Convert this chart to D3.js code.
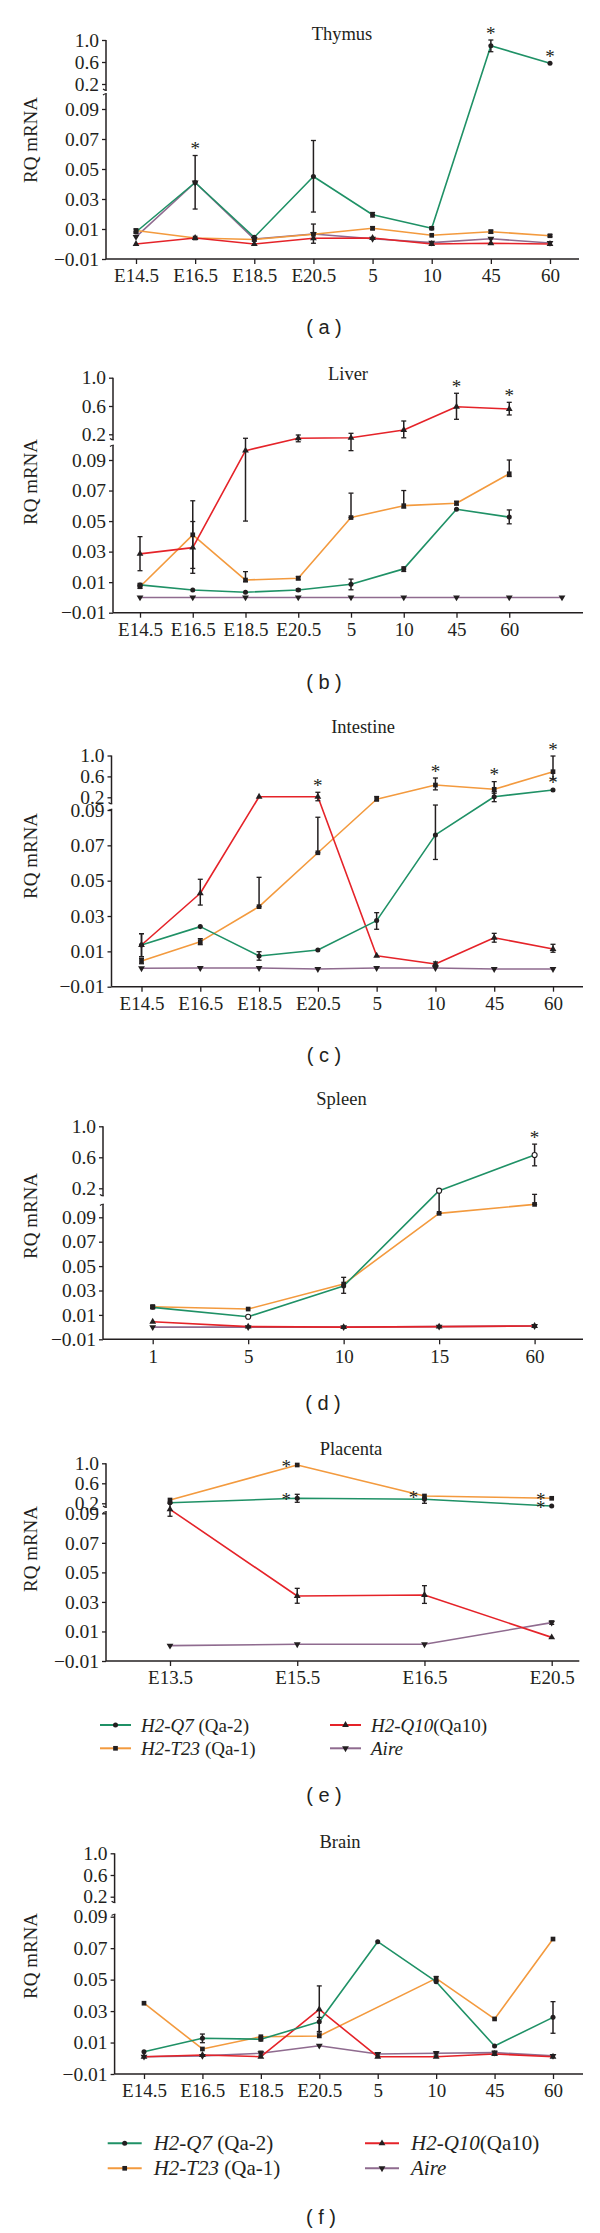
<!DOCTYPE html>
<html><head><meta charset="utf-8">
<script src="https://cdn.jsdelivr.net/npm/d3@7"></script>
<style>body{margin:0;background:#fff} svg{display:block;background:#fff}</style>
</head><body>
<svg id="c" width="600" height="2233"></svg>
<script>
// ---------------- data ----------------
const seriesNames = ["H2-Q7", "H2-T23", "H2-Q10", "Aire"];
const seriesQa = [" (Qa-2)", " (Qa-1)", "(Qa10)", ""];
const seriesColors = ["#1f9166", "#f39a3e", "#e52329", "#8f6b8f"];
const yTicksLow = [-0.01, 0.01, 0.03, 0.05, 0.07, 0.09];
const yTicksHigh = [0.2, 0.6, 1.0];

const devCats = ["E14.5", "E16.5", "E18.5", "E20.5", "5", "10", "45", "60"];
const liverCats = ["E14.5", "E16.5", "E18.5", "E20.5", "5", "10", "45", "60", ""];
const spleenCats = ["1", "5", "10", "15", "60"];
const placentaCats = ["E13.5", "E15.5", "E16.5", "E20.5"];

// Thymus
const thymusQ7 = [0.008, 0.041, 0.0045, 0.045, 0.0195, 0.0105, 0.896, 0.576];
const thymusT23 = [0.009, 0.004, 0.003, 0.0065, 0.0105, 0.0058, 0.0082, 0.0055];
const thymusQ10 = [0.0, 0.004, 0.0, 0.0038, 0.004, 0.0, 0.0005, 0.0];
const thymusAire = [0.0047, 0.041, 0.0033, 0.0067, 0.0035, 0.0009, 0.0035, 0.0007];
const thymusQ7Err = [null, [0.0233, 0.059], null, [0.0213, 0.069], [0.018, 0.021], [0.0095, 0.0115], [0.787, 1.0], null];
const thymusT23Err = [[0.007, 0.010], null, [0.002, 0.004], [0.0005, 0.0133], [0.0095, 0.0115], null, [0.0072, 0.0092], [0.0048, 0.0062]];
const thymusStars = [[0, 1], [0, 6], [0, 7]];

// Liver
const liverQ7 = [0.0082, 0.0049, 0.0034, 0.0049, 0.0086, 0.0187, 0.0578, 0.0526, null];
const liverT23 = [0.007, 0.041, 0.0114, 0.0126, 0.0523, 0.0601, 0.0617, 0.081, null];
const liverQ10 = [0.0285, 0.0326, 0.13, 0.183, 0.185, 0.261, 0.59, 0.558, null];
const liverAire = [0, 0, 0, 0, 0, 0, 0, 0, 0];
const liverQ7Err = [[0.0072, 0.0092], null, null, [0.0042, 0.0056], [0.005, 0.012], [0.017, 0.020], null, [0.0482, 0.0573], null];
const liverT23Err = [[0.006, 0.008], [0.019, 0.0633], [0.0103, 0.0169], [0.0115, 0.0137], [0.0523, 0.0683], [0.0585, 0.070], [0.0605, 0.063], [0.0792, 0.090], null];
const liverQ10Err = [[0.0175, 0.0398], [0.0158, 0.0497], [0.050, 0.183], [0.168, 0.197], [0.13, 0.214], [0.185, 0.388], [0.412, 0.78], [0.473, 0.652], null];
const liverStars = [[2, 6], [2, 7]];

// Intestine
const intestineQ7 = [0.0136, 0.024, 0.0074, 0.0108, 0.0274, 0.0759, 0.211, 0.34];
const intestineT23 = [0.0045, 0.0155, 0.0353, 0.0658, 0.183, 0.435, 0.353, 0.69];
const intestineQ10 = [0.0136, 0.0429, 0.21, 0.21, 0.0075, 0.0028, 0.0177, 0.0113];
const intestineAire = [0.0004, 0.0006, 0.0006, 0.0, 0.0006, 0.0006, 0.0, 0.0];
const intestineQ7Err = [[0.007, 0.02], null, [0.005, 0.0098], null, [0.0225, 0.0319], [0.062, 0.133], [0.162, 0.309], null];
const intestineT23Err = [[0.003, 0.006], [0.0138, 0.0172], [0.0353, 0.0519], [0.0658, 0.0859], [0.17, 0.215], [0.342, 0.569], [0.278, 0.5], [0.55, 0.99]];
const intestineQ10Err = [[0.007, 0.02], [0.0362, 0.0508], null, [0.17, 0.296], null, [0.0015, 0.004], [0.0152, 0.0202], [0.0095, 0.014]];
const intestineStars = [[2, 3], [1, 5], [1, 6], [1, 7], [0, 7]];

// Spleen
const spleenQ7 = [0.0162, 0.0085, 0.0337, 0.191, 0.63];
const spleenT23 = [0.0167, 0.0148, 0.0353, 0.105, 0.139];
const spleenQ10 = [0.0044, 0.0004, 0.0, 0.0004, 0.0009];
const spleenAire = [0.0, 0.0, 0.0, 0.0004, 0.0009];
const spleenQ7Err = [[0.015, 0.0175], null, [0.0277, 0.0408], null, [0.49, 0.77]];
const spleenT23Err = [[0.0155, 0.018], null, null, [0.105, 0.191], [0.139, 0.177]];
const spleenStars = [[0, 4]];

// Placenta
const placentaQ7 = [0.212, 0.3, 0.28, 0.17];
const placentaT23 = [0.266, 0.966, 0.346, 0.3];
const placentaQ10 = [0.134, 0.034, 0.0347, 0.006];
const placentaAire = [0.0004, 0.0013, 0.0013, 0.016];
const placentaQ7Err = [null, [0.22, 0.38], [0.2, 0.3], null];
const placentaQ10Err = [[0.088, 0.2], [0.0291, 0.0392], [0.029, 0.041], null];
const placentaAireErr = [null, null, null, [0.0148, 0.0172]];
const placentaStars = [[1, 1], [0, 1], [1, 2], [1, 3], [0, 3]];

// Brain
const brainQ7 = [0.0042, 0.0127, 0.0121, 0.0232, 0.0741, 0.0487, 0.0078, 0.026];
const brainT23 = [0.035, 0.0059, 0.0137, 0.0142, null, 0.0508, 0.025, 0.0758];
const brainQ10 = [0.001, 0.0021, 0.001, 0.0311, 0.001, 0.001, 0.0027, 0.001];
const brainAire = [0.001, 0.0015, 0.0032, 0.008, 0.0027, 0.0032, 0.0036, 0.0015];
const brainQ7Err = [null, [0.0099, 0.0154], [0.011, 0.0135], [0.017, 0.026], null, null, null, [0.0159, 0.036]];
const brainT23Err = [null, null, null, null, null, [0.049, 0.052], null, null];
const brainQ10Err = [null, null, null, [0.016, 0.046], null, null, null, null];
const brainAireErr = [null, null, [0.002, 0.0045], null, [0.0015, 0.0035], [0.002, 0.0042], [0.0025, 0.0045], null];

// ---------------- layout ----------------
const panels = [
  {title: "Thymus", tag: "a", cats: devCats, series: [thymusQ7, thymusT23, thymusQ10, thymusAire],
   errs: [thymusQ7Err, thymusT23Err, null, null], stars: thymusStars, starSide: "top",
   L: {axisX: 106, xEnd: 579, xFirst: 136, xLast: 550, y0: 259, y09: 109, y02: 84, y1: 40, brkHi: 90.5, brkLo: 93.5,
       titleX: 342, titleY: 40, tagX: 324, tagY: 327, ylabY: 140}},
  {title: "Liver", tag: "b", cats: liverCats, series: [liverQ7, liverT23, liverQ10, liverAire],
   errs: [liverQ7Err, liverT23Err, liverQ10Err, null], stars: liverStars, starSide: "top",
   L: {axisX: 113, xEnd: 583, xFirst: 140, xLast: 562, y0: 612.7, y09: 460, y02: 434.3, y1: 377.7, brkHi: 440, brkLo: 445,
       titleX: 348, titleY: 380, tagX: 324, tagY: 682, ylabY: 482}},
  {title: "Intestine", tag: "c", cats: devCats, series: [intestineQ7, intestineT23, intestineQ10, intestineAire],
   errs: [intestineQ7Err, intestineT23Err, intestineQ10Err, null], stars: intestineStars, starSide: "top",
   L: {axisX: 111.5, xEnd: 583, xFirst: 141.5, xLast: 553, y0: 986.7, y09: 810, y02: 797.3, y1: 755.5, brkHi: 804, brkLo: 809,
       titleX: 363, titleY: 733, tagX: 324, tagY: 1055, ylabY: 856}},
  {title: "Spleen", tag: "d", cats: spleenCats, series: [spleenQ7, spleenT23, spleenQ10, spleenAire],
   errs: [spleenQ7Err, spleenT23Err, null, null], stars: spleenStars, starSide: "top", openQ7: true,
   L: {axisX: 103, xEnd: 583, xFirst: 152.7, xLast: 534.6, y0: 1339.3, y09: 1217.3, y02: 1188.3, y1: 1126.3, brkHi: 1196, brkLo: 1204,
       titleX: 341.5, titleY: 1105, tagX: 323, tagY: 1403, ylabY: 1216}},
  {title: "Placenta", tag: "e", cats: placentaCats, series: [placentaQ7, placentaT23, placentaQ10, placentaAire],
   errs: [placentaQ7Err, null, placentaQ10Err, placentaAireErr], stars: placentaStars, starSide: "left",
   L: {axisX: 106, xEnd: 579.3, xFirst: 170, xLast: 551.7, y0: 1661, y09: 1513.3, y02: 1503.3, y1: 1463.3, brkHi: 1507.5, brkLo: 1511.5,
       titleX: 351, titleY: 1455, tagX: 324, tagY: 1795, ylabY: 1549,
       legend: {rows: [1725, 1748.3], cols: [100, 330], lineLen: 31, textGap: 41, font: 19}}},
  {title: "Brain", tag: "f", cats: devCats, series: [brainQ7, brainT23, brainQ10, brainAire],
   errs: [brainQ7Err, brainT23Err, brainQ10Err, brainAireErr], stars: [], starSide: "top",
   L: {axisX: 114.6, xEnd: 583, xFirst: 144, xLast: 553, y0: 2074, y09: 1916.7, y02: 1896.7, y1: 1853.3, brkHi: 1902.7, brkLo: 1914,
       titleX: 340, titleY: 1848, tagX: 321, tagY: 2216.7, ylabY: 1956,
       legend: {rows: [2143.3, 2168.3], cols: [107.7, 365], lineLen: 34, textGap: 46, font: 21}}}
];

const SERIF = "'Liberation Serif', 'Times New Roman', serif";
const SANS = "'Liberation Sans', Arial, sans-serif";
const INK = "#231f20";

const svg = d3.select("#c");

function marker(g, si, x, y, open) {
  const types = [d3.symbolCircle, d3.symbolSquare, d3.symbolTriangle, d3.symbolTriangle];
  const sizes = [20, 22, 20, 20];
  const p = g.append("path")
    .attr("d", d3.symbol().type(types[si]).size(sizes[si])())
    .attr("transform", `translate(${x},${y})` + (si === 3 ? " rotate(180)" : ""))
    .attr("fill", open ? "#fff" : INK)
    .attr("stroke", open ? INK : "none")
    .attr("stroke-width", open ? 1.1 : 0);
  return p;
}

function drawPanel(P) {
  const L = P.L;
  const g = svg.append("g");
  const x = d3.scalePoint().domain(P.cats).range([L.xFirst, L.xLast]);
  const y = d3.scaleLinear().domain([-0.01, 0.09, 0.2, 1.0]).range([L.y0, L.y09, L.y02, L.y1]);

  // x axis
  const xa = g.append("g").attr("transform", `translate(0,${L.y0})`)
    .call(d3.axisBottom(x).tickSize(5).tickSizeOuter(0).tickPadding(5));
  xa.select(".domain").remove();
  xa.selectAll("line").attr("stroke", INK).attr("stroke-width", 1.3);
  xa.selectAll(".tick").filter(d => d === "").select("line").remove();
  xa.selectAll("text").attr("font-family", SERIF).attr("font-size", 19).attr("fill", INK);
  g.append("line").attr("x1", L.axisX).attr("x2", L.xEnd).attr("y1", L.y0).attr("y2", L.y0)
    .attr("stroke", INK).attr("stroke-width", 1.5);

  // y axes (broken)
  const fmtLow = d3.format(".2f"), fmtHigh = d3.format(".1f");
  const ya1 = g.append("g").attr("transform", `translate(${L.axisX},0)`)
    .call(d3.axisLeft(y).tickValues(yTicksLow).tickFormat(fmtLow).tickSize(4).tickPadding(3));
  const ya2 = g.append("g").attr("transform", `translate(${L.axisX},0)`)
    .call(d3.axisLeft(y).tickValues(yTicksHigh).tickFormat(fmtHigh).tickSize(4).tickPadding(3));
  [ya1, ya2].forEach(a => {
    a.select(".domain").remove();
    a.selectAll("line").attr("stroke", INK).attr("stroke-width", 1.3);
    a.selectAll("text").attr("font-family", SERIF).attr("font-size", 19.5).attr("fill", INK);
  });
  g.append("line").attr("x1", L.axisX).attr("x2", L.axisX).attr("y1", L.y1).attr("y2", L.brkHi)
    .attr("stroke", INK).attr("stroke-width", 1.5);
  g.append("line").attr("x1", L.axisX).attr("x2", L.axisX).attr("y1", L.brkLo).attr("y2", L.y0)
    .attr("stroke", INK).attr("stroke-width", 1.5);
  // break marks
  [[L.brkHi, -1], [L.brkLo, 1]].forEach(([yy, s]) => {
    g.append("path").attr("d", `M${L.axisX - 3},${yy + s * 1.5} Q${L.axisX - 1},${yy} ${L.axisX + 0.7},${yy}`)
      .attr("fill", "none").attr("stroke", INK).attr("stroke-width", 1.2);
  });

  // y label
  g.append("text").attr("transform", `translate(30,${L.ylabY}) rotate(-90)`)
    .attr("text-anchor", "middle").attr("dominant-baseline", "central")
    .attr("font-family", SERIF).attr("font-size", 19).attr("fill", INK).text("RQ mRNA");

  // title
  g.append("text").attr("x", L.titleX).attr("y", L.titleY).attr("text-anchor", "middle")
    .attr("font-family", SERIF).attr("font-size", 18.5).attr("fill", INK).text(P.title);

  // tag
  g.append("text").attr("x", L.tagX).attr("y", L.tagY).attr("text-anchor", "middle")
    .attr("dominant-baseline", "central").attr("font-family", SANS).attr("font-size", 20)
    .attr("fill", INK).attr("xml:space", "preserve").text(`( ${P.tag} )`);

  // lines
  const line = d3.line().x(d => x(d.c)).y(d => y(d.v));
  [3, 1, 2, 0].forEach(si => {
    const pts = P.cats.map((c, i) => ({c, v: P.series[si][i]})).filter(d => d.v !== null && d.v !== undefined);
    g.append("path").datum(pts).attr("d", line).attr("fill", "none")
      .attr("stroke", seriesColors[si]).attr("stroke-width", 1.6).attr("stroke-linejoin", "round");
  });

  // error bars
  P.errs.forEach((arr, si) => {
    if (!arr) return;
    arr.forEach((e, i) => {
      if (!e) return;
      const cx = x(P.cats[i]);
      const yl = y(e[0]), yh = y(e[1]);
      g.append("line").attr("x1", cx).attr("x2", cx).attr("y1", yl).attr("y2", yh).attr("stroke", INK).attr("stroke-width", 1.5);
      [yl, yh].forEach(yy => g.append("line").attr("x1", cx - 2.5).attr("x2", cx + 2.5).attr("y1", yy).attr("y2", yy)
        .attr("stroke", INK).attr("stroke-width", 1.3));
    });
  });

  // markers
  [3, 1, 2, 0].forEach(si => {
    P.series[si].forEach((v, i) => {
      if (v === null || v === undefined) return;
      marker(g, si, x(P.cats[i]), y(v), si === 0 && P.openQ7 && i !== 0 && i !== 2);
    });
  });

  // stars
  P.stars.forEach(([si, ci]) => {
    const v = P.series[si][ci];
    const cx = x(P.cats[ci]);
    let sx, sy;
    if (P.starSide === "left") {
      sx = cx - 11; sy = y(v) - 1;
    } else {
      const e = P.errs[si] && P.errs[si][ci];
      const top = Math.min(y(v), e ? y(e[1]) : y(v));
      sx = cx; sy = top - 9;
    }
    g.append("text").attr("x", sx).attr("y", sy + 8.5).attr("text-anchor", "middle")
      .attr("font-family", SERIF).attr("font-size", 19).attr("fill", INK).text("*");
  });

  // legend
  if (L.legend) {
    const lg = L.legend;
    [0, 1, 2, 3].forEach(si => {
      const col = si < 2 ? 0 : 1, row = si % 2;
      const x0 = lg.cols[col], yy = lg.rows[row];
      g.append("line").attr("x1", x0).attr("x2", x0 + lg.lineLen).attr("y1", yy).attr("y2", yy)
        .attr("stroke", seriesColors[si]).attr("stroke-width", 2);
      marker(g, si, x0 + lg.lineLen / 2, yy, false);
      const t = g.append("text").attr("x", x0 + lg.textGap).attr("y", yy).attr("dominant-baseline", "central")
        .attr("font-family", SERIF).attr("font-size", lg.font).attr("fill", INK).attr("xml:space", "preserve");
      t.append("tspan").attr("font-style", "italic").text(seriesNames[si]);
      if (seriesQa[si]) t.append("tspan").text(seriesQa[si]);
    });
  }
}

panels.forEach(drawPanel);
</script>
</body></html>
